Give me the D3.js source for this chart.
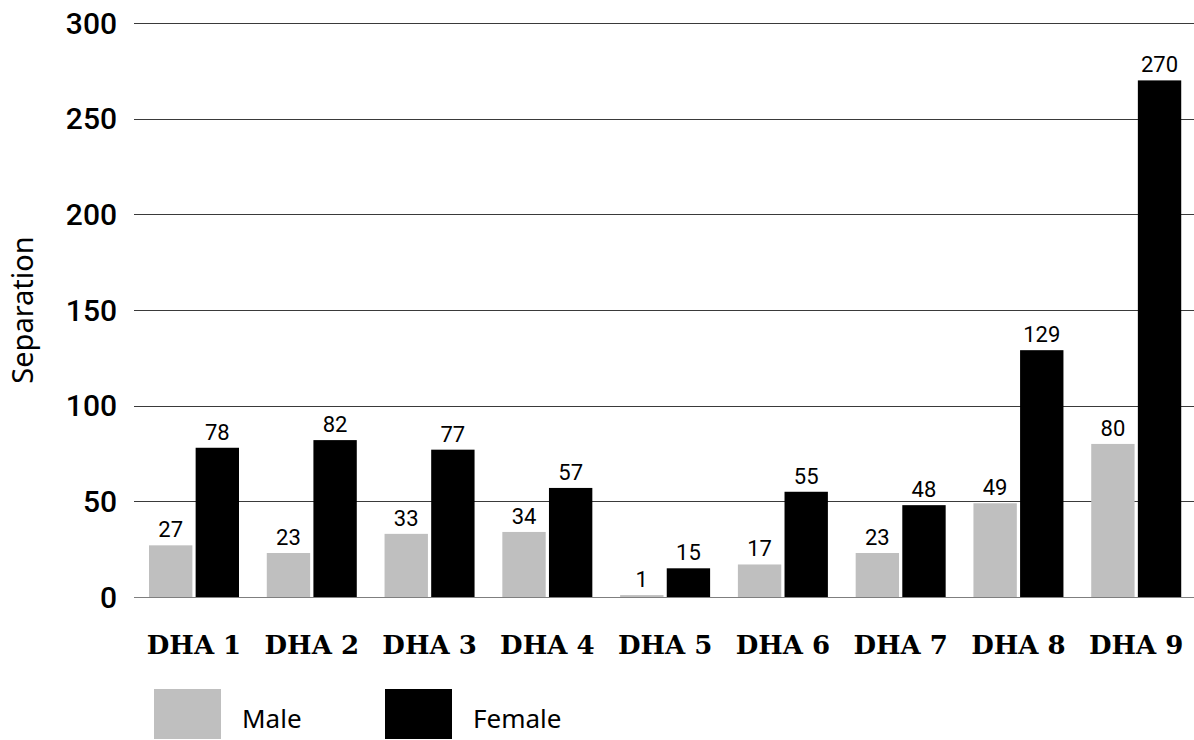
<!DOCTYPE html>
<html><head><meta charset="utf-8">
<script src="https://cdn.jsdelivr.net/npm/d3@7"></script>
<style>body{margin:0;background:#fff}svg{display:block}</style>
</head><body>
<script>
const categories = ["DHA 1","DHA 2","DHA 3","DHA 4","DHA 5","DHA 6","DHA 7","DHA 8","DHA 9"];
const male = [27,23,33,34,1,17,23,49,80];
const female = [78,82,77,57,15,55,48,129,270];
const seriesNames = ["Male","Female"];
const seriesColors = ["#bfbfbf","#000000"];
const yTicks = [0,50,100,150,200,250,300];

const W = 1194, H = 740;
const m = {left:134, right:0, top:23, bottom:143};
const svg = d3.select("body").append("svg").attr("width",W).attr("height",H);

const x0 = d3.scaleBand().domain(categories).range([m.left, W - m.right]).paddingInner(0).paddingOuter(0);
const x1 = d3.scaleBand().domain(seriesNames).range([15, 105]).paddingInner(0.07);
const y = d3.scaleLinear().domain([0,300]).range([H - m.bottom, m.top]);

// gridlines
svg.append("g").selectAll("line").data(yTicks).join("line")
  .attr("x1", m.left).attr("x2", W).attr("y1", d=>Math.round(y(d))+0.5).attr("y2", d=>Math.round(y(d))+0.5)
  .attr("stroke", d=> d===0 ? "#7f7f7f" : "#3a3a3a").attr("stroke-width",1.2);

// y tick labels
svg.append("g").selectAll("text").data(yTicks).join("text")
  .attr("x", 117).attr("y", d=>y(d)).attr("dy","0.36em").attr("text-anchor","end")
  .attr("font-family","Roboto, sans-serif").attr("font-weight","500").attr("font-size",30)
  .attr("fill","#000").text(d=>d);

// y title
svg.append("text").attr("transform",`translate(33,${y(150)}) rotate(-90)`)
  .attr("text-anchor","middle").attr("font-family","'Noto Sans', sans-serif").attr("font-size",29)
  .text("Separation");

const data = categories.map((c,i)=>({cat:c, vals:[{s:"Male",v:male[i]},{s:"Female",v:female[i]}]}));
const groups = svg.append("g").selectAll("g").data(data).join("g")
  .attr("transform", d=>`translate(${x0(d.cat)},0)`);
groups.selectAll("rect").data(d=>d.vals).join("rect")
  .attr("x", d=>x1(d.s)).attr("width", x1.bandwidth())
  .attr("y", d=>y(d.v)).attr("height", d=>y(0)-y(d.v))
  .attr("fill", (d,i)=>seriesColors[i]);
groups.selectAll("text").data(d=>d.vals).join("text")
  .attr("x", d=>x1(d.s)+x1.bandwidth()/2).attr("y", d=>y(d.v)-8)
  .attr("text-anchor","middle").attr("font-family","Roboto, sans-serif").attr("font-size",22)
  .attr("fill","#000").text(d=>d.v);

// x labels
svg.append("g").selectAll("text").data(categories).join("text")
  .attr("x", d=>x0(d)+60).attr("y", 654).attr("text-anchor","middle")
  .attr("font-family","'DejaVu Serif', serif").attr("font-weight","bold").attr("font-size",26)
  .text(d=>d);

// legend
const legX = [154, 385];
const leg = svg.append("g").selectAll("g").data(seriesNames).join("g")
  .attr("transform",(d,i)=>`translate(${legX[i]},689)`);
leg.append("rect").attr("width",67).attr("height",50).attr("fill",(d,i)=>seriesColors[i]);
leg.append("text").attr("x",88).attr("y",39).attr("font-family","'Noto Sans', sans-serif")
  .attr("font-size",26).text(d=>d);
</script>
</body></html>
